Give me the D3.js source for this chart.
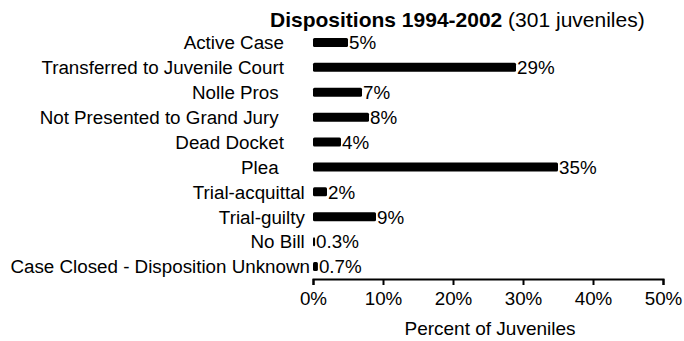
<!DOCTYPE html>
<html>
<head>
<meta charset="utf-8">
<script src="https://cdn.jsdelivr.net/npm/d3@7"></script>
<style>
  html, body { margin: 0; padding: 0; background: #fff; }
  svg text { font-family: "Liberation Sans", Arial, sans-serif; fill: #000; white-space: pre; }
</style>
</head>
<body>
<svg id="chart" width="684" height="341"></svg>
<script>
// Case dispositions, percent of juveniles (label text keeps its original padding)
const categories = [
  "Active Case\u00a0\u00a0\u00a0\u00a0\u00a0",
  "Transferred to Juvenile Court\u00a0\u00a0\u00a0\u00a0\u00a0",
  "Nolle Pros\u00a0\u00a0\u00a0\u00a0\u00a0\u00a0",
  "Not Presented to Grand Jury\u00a0\u00a0\u00a0\u00a0\u00a0\u00a0",
  "Dead Docket\u00a0\u00a0\u00a0\u00a0\u00a0",
  "Plea\u00a0\u00a0\u00a0\u00a0\u00a0\u00a0",
  "Trial-acquittal\u00a0",
  "Trial-guilty\u00a0",
  "No Bill\u00a0",
  "Case Closed - Disposition Unknown"
];
const values = [5, 29, 7, 8, 4, 35, 2, 9, 0.3, 0.7];
const valueLabels = ["5%", "29%", "7%", "8%", "4%", "35%", "2%", "9%", "0.3%", "0.7%"];
const xTicks = [0, 10, 20, 30, 40, 50];
const titleBold = "Dispositions 1994-2002";
const titleRest = " (301 juveniles)";
const xTitle = "Percent of Juveniles";

const svg = d3.select("#chart");
const fontSize = 18.8;

const x = d3.scaleLinear().domain([0, 50]).range([313, 663]);
const y = d3.scaleBand().domain(d3.range(categories.length)).range([30, 279]).paddingInner(0.64).paddingOuter(0.32);

// title
const title = svg.append("text")
  .attr("x", 270).attr("y", 26.5)
  .style("font-size", "21px");
title.append("tspan").attr("font-weight", "bold").text(titleBold);
title.append("tspan").text(titleRest);

// bars
svg.append("g").selectAll("rect")
  .data(values)
  .join("rect")
  .attr("x", x(0))
  .attr("y", (d, i) => y(i))
  .attr("width", d => x(d) - x(0))
  .attr("height", y.bandwidth())
  .attr("rx", 1.5)
  .attr("fill", "#000");

// value labels
svg.append("g").selectAll("text")
  .data(values)
  .join("text")
  .attr("x", d => x(d) + 1)
  .attr("y", (d, i) => y(i) + y.bandwidth() / 2)
  .attr("dy", "0.36em")
  .style("font-size", fontSize + "px")
  .text((d, i) => valueLabels[i]);

// category labels
svg.append("g").selectAll("text")
  .data(categories)
  .join("text")
  .attr("x", 310)
  .attr("y", (d, i) => y(i) + y.bandwidth() / 2)
  .attr("dy", "0.36em")
  .attr("text-anchor", "end")
  .style("font-size", fontSize + "px")
  .text(d => d);

// x axis
const xAxis = d3.axisBottom(x)
  .tickValues(xTicks)
  .tickFormat(d => d + "%")
  .tickSize(6)
  .tickPadding(6.5);

const gx = svg.append("g")
  .attr("transform", "translate(0,279)")
  .call(xAxis);
gx.select(".domain").attr("stroke", "#000").attr("stroke-width", 2);
gx.selectAll(".tick line").attr("stroke", "#000").attr("stroke-width", 2);
gx.selectAll(".tick text")
  .attr("font-family", null)
  .style("font-size", fontSize + "px")
  .attr("fill", "#000");

// x axis title
svg.append("text")
  .attr("x", 490).attr("y", 335)
  .attr("text-anchor", "middle")
  .style("font-size", "19px")
  .text(xTitle);
</script>
</body>
</html>
